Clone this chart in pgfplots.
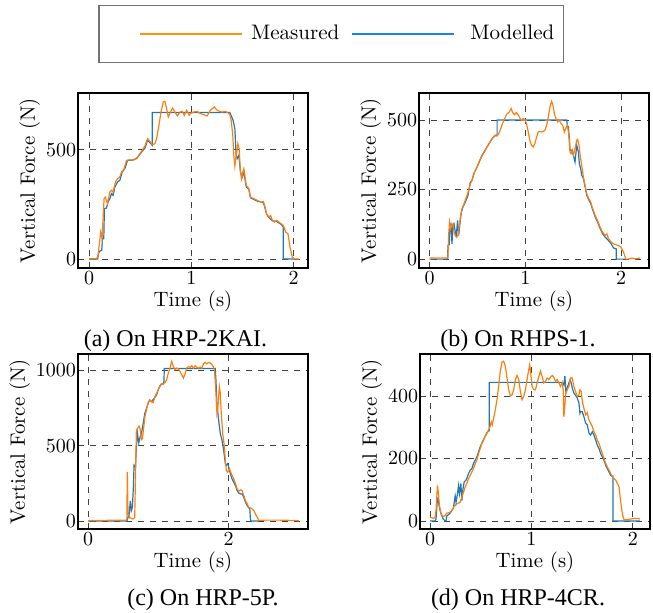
\documentclass[border=0pt]{standalone}
\usepackage{fontspec}
\usepackage{pgfplots}
\pgfplotsset{compat=1.18}
\newfontfamily\capfont{Liberation Serif}

\definecolor{measorange}{HTML}{FF7F0E}
\definecolor{modelblue}{HTML}{1F77B4}
\definecolor{legorange}{HTML}{FF930F}
\definecolor{legblue}{HTML}{1785E6}

\pgfplotsset{
  panel/.style={
    scale only axis, width=115pt, height=87.5pt,
    axis line style={line width=0.6pt},
    grid=major, major grid style={black!75, dashed, line width=0.4pt},
    major tick length=0pt, tick style={draw=none},
    tick label style={font=\fontsize{10.4}{12}\selectfont},
    label style={font=\fontsize{10.4}{12}\selectfont},
    xticklabel style={inner sep=1.5pt},
    yticklabel style={inner sep=0.8pt},
    xlabel={Time (s)}, ylabel={Vertical Force (N)},
    xlabel style={inner sep=1.5pt},
    ylabel style={inner sep=2pt},
    scaled ticks=false, /pgf/number format/1000 sep={},
  },
  meas/.style={color=measorange, line width=0.6pt, no markers, forget plot},
  model/.style={color=modelblue, line width=0.6pt, no markers, forget plot},
}

\begin{document}
\begin{tikzpicture}
\useasboundingbox (0pt,0pt) rectangle (326.5pt,-306pt);

% (a) HRP-2KAI
\begin{axis}[panel, at={(39pt,-134pt)}, anchor=south west,
  xmin=-0.108, xmax=2.14, ymin=-41, ymax=759,
  xtick={0,1,2}, ytick={0,500},
  legend columns=2,
  legend style={at={(1.1004,1.337)}, anchor=center, draw=black!55,
    line width=0.6pt, inner xsep=2.5pt, inner ysep=7.8pt,
    font=\fontsize{10.5}{12}\selectfont,
    /tikz/every even column/.append style={column sep=3.5pt}},
]
\addlegendimage{legend image code/.code={\path (-17.5pt,0pt) (53.5pt,0pt); \draw[legorange, line width=1.3pt] (0pt,0pt) -- (51pt,0pt);}}
\addlegendentry{Measured}
\addlegendimage{legend image code/.code={\path (57pt,0pt); \draw[legblue, line width=1.3pt] (0pt,0pt) -- (51pt,0pt);}}
\addlegendentry{Modelled}
\addplot[model] coordinates {
(0,0) (0.085,0) (0.088,17) (0.101,35) (0.124,40) (0.131,93) (0.144,93) (0.150,230)
(0.170,233) (0.186,261) (0.203,276) (0.219,299) (0.235,291) (0.252,329) (0.278,352)
(0.301,360) (0.324,398) (0.350,413) (0.376,451) (0.415,451) (0.464,459) (0.513,489)
(0.546,507) (0.572,543) (0.595,532) (0.618,520) (0.618,670) (1.376,670) (1.408,634)
(1.425,596) (1.438,474) (1.448,459) (1.464,474) (1.480,398) (1.497,375) (1.513,398)
(1.536,330) (1.562,318) (1.578,280) (1.644,265) (1.703,258) (1.716,240) (1.735,205)
(1.758,190) (1.791,175) (1.833,172) (1.879,158) (1.899,146) (1.899,0) (2.010,0)
};
\addplot[meas] coordinates {
(0,0) (0.072,0) (0.088,17) (0.114,123) (0.127,93) (0.147,276) (0.160,283) (0.180,253)
(0.203,306) (0.219,314) (0.235,306) (0.258,352) (0.278,367) (0.301,375) (0.317,398)
(0.340,409) (0.366,451) (0.399,454) (0.431,451) (0.454,459) (0.474,466) (0.497,482)
(0.519,497) (0.546,517) (0.572,550) (0.595,538) (0.618,523) (0.644,527) (0.660,550)
(0.683,611) (0.703,672) (0.725,718) (0.742,721) (0.758,688) (0.774,649) (0.797,672)
(0.817,690) (0.840,672) (0.863,654) (0.889,672) (0.912,675) (0.931,657) (0.954,680)
(0.980,657) (0.990,665) (1.023,672) (1.055,675) (1.088,665) (1.121,660) (1.154,654)
(1.186,680) (1.225,695) (1.252,680) (1.278,675) (1.301,672) (1.333,675) (1.356,669)
(1.376,660) (1.389,634) (1.405,565) (1.415,474) (1.425,425) (1.438,474) (1.454,527)
(1.467,504) (1.480,398) (1.490,367) (1.503,398) (1.513,413) (1.523,382) (1.536,337)
(1.552,329) (1.562,321) (1.578,283) (1.611,276) (1.644,268) (1.683,260) (1.703,263)
(1.716,245) (1.735,207) (1.758,192) (1.775,199) (1.791,177) (1.814,169) (1.833,177)
(1.856,169) (1.879,161) (1.899,154) (1.922,123) (1.944,116) (1.964,54) (1.987,9)
(2.010,0) (2.052,0)
};
\end{axis}

% (b) RHPS-1
\begin{axis}[panel, at={(209.5pt,-134pt)}, anchor=south west,
  xmin=-0.11, xmax=2.29, ymin=-32, ymax=597,
  xtick={0,1,2}, ytick={0,250,500},
]
\addplot[model] coordinates {
(0,0) (0.189,0) (0.192,49) (0.206,52) (0.213,121) (0.223,127) (0.234,55) (0.244,121)
(0.255,127) (0.269,97) (0.279,85) (0.293,139) (0.304,85) (0.321,139) (0.332,169)
(0.349,187) (0.374,205) (0.401,229) (0.426,277) (0.443,283) (0.461,307) (0.496,331)
(0.548,373) (0.600,403) (0.653,433) (0.688,445) (0.705,445) (0.705,500) (1.431,500)
(1.438,481) (1.449,475) (1.459,432) (1.466,391) (1.483,391) (1.501,373) (1.518,349)
(1.536,409) (1.553,385) (1.563,343) (1.577,325) (1.588,301) (1.605,290) (1.623,260)
(1.640,230) (1.658,215) (1.682,200) (1.703,176) (1.728,152) (1.752,134) (1.780,110)
(1.805,92) (1.832,79) (1.867,67) (1.895,55) (1.920,40) (1.948,37) (1.948,0) (2.042,0)
};
\addplot[meas] coordinates {
(0,4) (0.182,4) (0.192,7) (0.199,85) (0.209,133) (0.220,109) (0.230,121) (0.244,127)
(0.255,97) (0.269,83) (0.283,79) (0.297,85) (0.311,121) (0.325,157) (0.339,181)
(0.367,205) (0.391,229) (0.408,247) (0.426,271) (0.443,283) (0.471,313) (0.496,331)
(0.524,355) (0.548,373) (0.573,385) (0.600,403) (0.625,418) (0.653,433) (0.681,445)
(0.705,442) (0.722,451) (0.740,466) (0.764,490) (0.792,511) (0.810,523) (0.827,526)
(0.852,541) (0.869,526) (0.887,519) (0.904,526) (0.925,519) (0.942,507) (0.960,499)
(0.977,505) (0.995,502) (1.012,487) (1.030,457) (1.047,427) (1.064,409) (1.082,403)
(1.099,415) (1.117,439) (1.134,457) (1.152,459) (1.169,457) (1.187,459) (1.204,463)
(1.222,481) (1.239,511) (1.257,547) (1.274,567) (1.288,553) (1.302,523) (1.319,505)
(1.337,493) (1.354,499) (1.372,487) (1.389,481) (1.407,457) (1.421,469) (1.438,481)
(1.449,457) (1.459,421) (1.466,385) (1.476,379) (1.490,391) (1.501,373) (1.518,397)
(1.536,427) (1.546,430) (1.560,409) (1.574,367) (1.588,337) (1.605,295) (1.623,265)
(1.640,235) (1.658,220) (1.682,205) (1.703,181) (1.728,157) (1.752,139) (1.780,115)
(1.805,97) (1.832,85) (1.850,91) (1.867,73) (1.895,61) (1.920,55) (1.944,52)
(1.972,49) (1.997,43) (2.024,25) (2.049,0) (2.070,0) (2.112,4) (2.147,1) (2.199,4)
};
\end{axis}

% (c) HRP-5P
\begin{axis}[panel, at={(39pt,-264.5pt)}, anchor=south west,
  xmin=-0.143, xmax=3.13, ymin=-53, ymax=1109,
  xtick={0,2}, ytick={0,500,1000},
]
\addplot[model] coordinates {
(0,0) (0.555,0) (0.578,46) (0.583,36) (0.602,134) (0.616,69) (0.631,91) (0.645,225)
(0.655,370) (0.674,359) (0.688,492) (0.703,581) (0.722,519) (0.741,559) (0.760,581)
(0.784,647) (0.808,715) (0.831,748) (0.855,782) (0.879,804) (0.903,793) (0.941,815)
(0.975,837) (0.998,871) (1.022,897) (1.046,910) (1.070,910) (1.080,926) (1.085,1013)
(1.810,1013) (1.820,937) (1.834,782) (1.858,670) (1.882,581) (1.906,537) (1.930,470)
(1.954,381) (1.968,370) (1.987,381) (2.001,359) (2.025,314) (2.049,280) (2.073,258)
(2.097,236) (2.121,203) (2.145,185) (2.169,180) (2.192,180) (2.216,158) (2.240,125)
(2.264,102) (2.288,87) (2.302,80) (2.312,0) (2.431,0)
};
\addplot[meas] coordinates {
(0,3) (0.545,6) (0.552,6) (0.559,325) (0.569,46) (0.593,24) (0.616,18) (0.640,13)
(0.664,24) (0.674,269) (0.688,603) (0.703,614) (0.726,630) (0.741,614) (0.760,541)
(0.774,548) (0.793,625) (0.808,692) (0.831,737) (0.855,786) (0.879,804) (0.903,793)
(0.927,786) (0.951,826) (0.975,848) (0.998,871) (1.022,893) (1.046,910) (1.070,910)
(1.094,919) (1.118,937) (1.142,982) (1.166,1015) (1.190,1060) (1.214,1026) (1.237,1004)
(1.261,1015) (1.285,1009) (1.309,993) (1.333,971) (1.357,949) (1.380,977) (1.404,1015)
(1.428,1026) (1.452,1020) (1.476,1031) (1.500,1015) (1.524,1031) (1.548,1022)
(1.572,1015) (1.596,1022) (1.619,1015) (1.643,1044) (1.667,1053) (1.691,1044)
(1.715,1053) (1.739,1049) (1.763,1038) (1.787,1022) (1.801,993) (1.820,849) (1.834,715)
(1.849,759) (1.868,893) (1.882,849) (1.896,715) (1.916,581) (1.935,514) (1.954,403)
(1.968,336) (1.987,325) (2.011,347) (2.030,325) (2.049,303) (2.073,280) (2.097,249)
(2.121,214) (2.145,198) (2.169,207) (2.192,203) (2.216,169) (2.240,136) (2.264,114)
(2.288,91) (2.312,87) (2.336,80) (2.360,69) (2.384,46) (2.408,24) (2.431,4) (2.527,6)
(2.718,6) (2.909,4) (3.004,2)
};
\end{axis}

% (d) HRP-4CR
\begin{axis}[panel, at={(210pt,-264.5pt)}, anchor=south west,
  xmin=-0.099, xmax=2.17, ymin=-26, ymax=535,
  xtick={0,1,2}, ytick={0,200,400},
]
\addplot[model] coordinates {
(0,0) (0.050,0) (0.059,5) (0.073,71) (0.083,65) (0.092,44) (0.106,25) (0.119,14)
(0.132,5) (0.149,0) (0.158,0) (0.165,16) (0.182,20) (0.198,25) (0.215,33) (0.231,42)
(0.248,80) (0.257,60) (0.271,87) (0.281,113) (0.290,87) (0.304,120) (0.314,65)
(0.323,98) (0.337,125) (0.353,130) (0.363,136) (0.380,152) (0.396,162) (0.413,168)
(0.429,184) (0.446,195) (0.462,205) (0.479,222) (0.495,237) (0.512,250) (0.528,261)
(0.545,272) (0.561,283) (0.578,289) (0.584,289) (0.584,444) (1.304,444) (1.320,436)
(1.330,464) (1.340,415) (1.353,426) (1.380,452) (1.393,442) (1.403,426) (1.419,410)
(1.452,394) (1.469,378) (1.479,345) (1.485,350) (1.502,350) (1.518,334) (1.535,313)
(1.551,308) (1.568,281) (1.584,275) (1.601,286) (1.617,275) (1.634,259) (1.650,243)
(1.667,232) (1.683,216) (1.700,205) (1.716,194) (1.733,178) (1.749,167) (1.766,156)
(1.782,146) (1.799,143) (1.805,143) (1.805,0) (2.072,0)
};
\addplot[meas] coordinates {
(0,12) (0.033,8) (0.050,12) (0.059,33) (0.073,114) (0.083,87) (0.092,50) (0.106,28)
(0.119,17) (0.132,14) (0.149,17) (0.165,25) (0.182,26) (0.198,28) (0.215,33) (0.231,44)
(0.248,50) (0.264,55) (0.281,57) (0.297,60) (0.314,77) (0.330,92) (0.347,109)
(0.363,120) (0.380,136) (0.396,146) (0.413,157) (0.429,168) (0.446,184) (0.462,195)
(0.479,216) (0.495,232) (0.512,248) (0.528,259) (0.545,272) (0.561,281) (0.578,291)
(0.594,304) (0.604,318) (0.614,308) (0.627,329) (0.644,356) (0.660,388) (0.677,431)
(0.693,480) (0.710,509) (0.726,512) (0.743,496) (0.759,458) (0.776,420) (0.792,401)
(0.809,404) (0.825,420) (0.842,453) (0.858,466) (0.875,453) (0.891,415) (0.908,388)
(0.924,399) (0.941,420) (0.957,453) (0.974,485) (0.983,501) (0.993,474) (1.007,431)
(1.023,421) (1.040,420) (1.056,442) (1.073,463) (1.089,480) (1.106,463) (1.122,442)
(1.139,447) (1.155,458) (1.172,453) (1.188,461) (1.205,466) (1.221,461) (1.238,447)
(1.254,453) (1.271,442) (1.287,431) (1.304,444) (1.314,420) (1.320,334) (1.327,356)
(1.337,404) (1.353,420) (1.370,431) (1.386,458) (1.403,458) (1.419,431) (1.436,415)
(1.452,399) (1.469,404) (1.479,420) (1.492,415) (1.502,383) (1.518,361) (1.535,340)
(1.551,347) (1.568,323) (1.584,313) (1.601,302) (1.617,286) (1.634,275) (1.650,259)
(1.667,248) (1.683,232) (1.700,216) (1.716,200) (1.733,184) (1.749,173) (1.766,163)
(1.782,152) (1.799,141) (1.815,136) (1.832,130) (1.848,120) (1.865,109) (1.875,77)
(1.888,44) (1.901,17) (1.914,4) (1.947,4) (1.980,6) (2.013,8) (2.046,8) (2.072,6)
};
\end{axis}

\node[font=\capfont\fontsize{12}{14}\selectfont] at (87.75pt,-170.5pt) {(a) On HRP-2KAI.};
\node[font=\capfont\fontsize{12}{14}\selectfont] at (259pt,-170.5pt) {(b) On RHPS-1.};
\node[font=\capfont\fontsize{12}{14}\selectfont] at (101.5pt,-300pt) {(c) On HRP-5P.};
\node[font=\capfont\fontsize{12}{14}\selectfont] at (259pt,-300pt) {(d) On HRP-4CR.};
\end{tikzpicture}
\end{document}
